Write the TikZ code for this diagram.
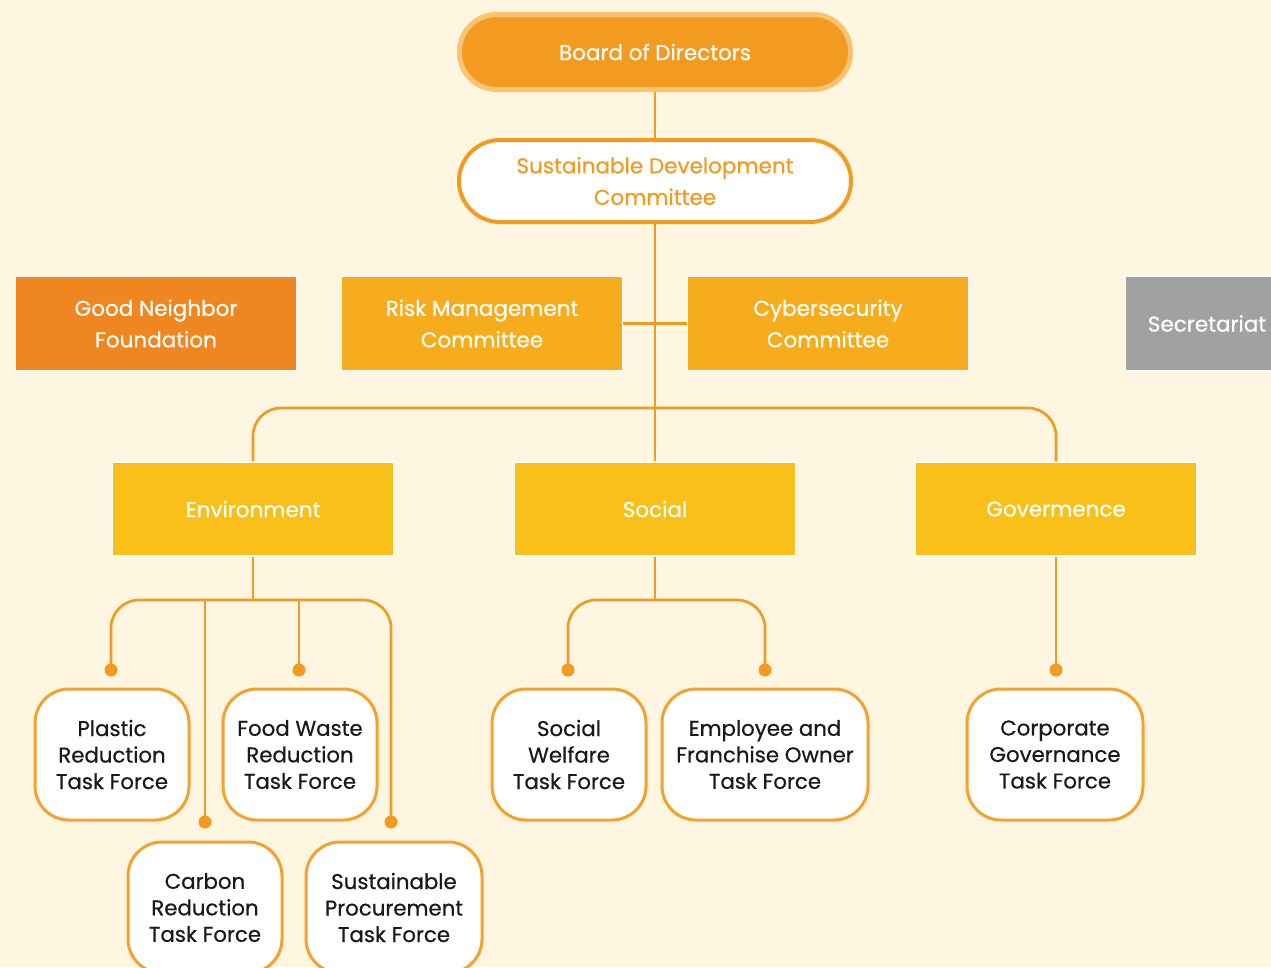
\documentclass[tikz,border=0pt]{standalone}
\usepackage{fontspec}
\setmainfont{Poppins}[FakeBold=0.6]
\usetikzlibrary{calc}
\definecolor{bg}{HTML}{FEF6E0}
\definecolor{orn}{HTML}{F39A21}
\definecolor{ornlight}{HTML}{F8C472}
\definecolor{gnfill}{HTML}{F0861F}
\definecolor{cmfill}{HTML}{F6AC1D}
\definecolor{pilfill}{HTML}{F8C018}
\definecolor{grayfill}{HTML}{A0A1A0}
\definecolor{tfedge}{HTML}{F5A12C}
\definecolor{txt}{HTML}{1A1A1A}
\tikzset{
  conn/.style={draw=orn, line width=2.7pt},
  bus/.style={conn, rounded corners=28pt},
  dotend/.style={fill=orn, draw=none},
  boxbase/.style={draw=white, line width=1.5pt, minimum width=281pt, minimum height=94pt, inner sep=0pt, align=center, text=white, font=\fontsize{21.5}{31.5}\selectfont},
  tfbox/.style={draw=tfedge, fill=white, line width=3pt, rounded corners=34pt, minimum height=131pt, inner sep=0pt, align=center, text=txt, font=\fontsize{21.3}{26.5}\selectfont},
}
\begin{document}
\begin{tikzpicture}[x=1pt,y=-1pt]
\clip (0,0) rectangle (1271,967);
\fill[bg] (0,0) rectangle (1271,967);
% top
\node[draw=ornlight, fill=orn, line width=5pt, rounded corners=37pt, minimum width=391pt, minimum height=75pt, text=white, font=\fontsize{21.5}{31}\selectfont] (board) at (655,52) {Board of Directors};
\node[draw=orn, fill=white, line width=4pt, rounded corners=41pt, minimum width=392pt, minimum height=82pt, text=orn, align=center, font=\fontsize{21.5}{31.5}\selectfont] (sdc) at (655,181) {Sustainable Development\\Committee};
% committees
\node[boxbase, fill=gnfill] (gn) at (156,323.5) {Good Neighbor\\Foundation};
\node[boxbase, fill=cmfill] (risk) at (482,323.5) {Risk Management\\Committee};
\node[boxbase, fill=cmfill] (cyber) at (828,323.5) {Cybersecurity\\Committee};
\node[boxbase, fill=grayfill, minimum width=163pt] (sec) at (1207,323.5) {Secretariat};
% pillars
\node[boxbase, fill=pilfill] (env) at (253,509) {Environment};
\node[boxbase, fill=pilfill] (soc) at (655,509) {Social};
\node[boxbase, fill=pilfill] (gov) at (1056,509) {Govermence};
% task forces
\node[tfbox, minimum width=154pt] (plastic) at (112,754.5) {Plastic\\Reduction\\Task Force};
\node[tfbox, minimum width=154pt] (food) at (300,754.5) {Food Waste\\Reduction\\Task Force};
\node[tfbox, minimum width=154pt] (carbon) at (205,907.5) {Carbon\\Reduction\\Task Force};
\node[tfbox, minimum width=176pt] (proc) at (394,907.5) {Sustainable\\Procurement\\Task Force};
\node[tfbox, minimum width=154pt] (welfare) at (569,754.5) {Social\\Welfare\\Task Force};
\node[tfbox, minimum width=206pt] (emp) at (765,754.5) {Employee and\\Franchise Owner\\Task Force};
\node[tfbox, minimum width=176pt] (corp) at (1055,754.5) {Corporate\\Governance\\Task Force};
% coordinates
\coordinate (topbus) at (655,408);
\coordinate (envbus) at (253,600);
\coordinate (socbus) at (655,600);
\coordinate (pdot) at (111,670);
\coordinate (fdot) at (299,670);
\coordinate (cdot) at (205,822);
\coordinate (spdot) at (391,822);
\coordinate (swdot) at (568,670);
\coordinate (empdot) at (765,670);
\coordinate (cgdot) at (1056,670);
% connectors
\draw[conn] (board.south) -- (sdc.north);
\draw[conn] (sdc.south) -- (soc.north);
\draw[conn] (risk.east) -- (cyber.west);
\draw[bus] (env.north) |- (topbus) -| (gov.north);
\draw[conn] (env.south) -- (envbus);
\draw[bus] (pdot) |- (envbus) -| (spdot);
\draw[conn] (fdot) -- (fdot |- envbus);
\draw[conn] (cdot) -- (cdot |- envbus);
\draw[conn] (soc.south) -- (socbus);
\draw[bus] (swdot) |- (socbus) -| (empdot);
\draw[conn] (gov.south) -- (cgdot);
\foreach \d in {pdot,fdot,cdot,spdot,swdot,empdot,cgdot}
  \fill[dotend] (\d) circle (6.5pt);
\end{tikzpicture}
\end{document}
